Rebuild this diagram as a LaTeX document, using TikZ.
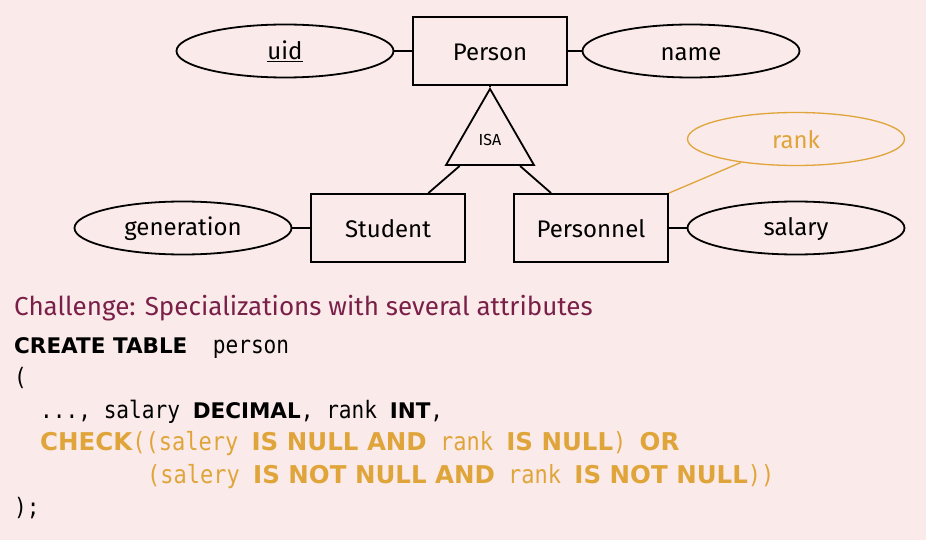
\documentclass[tikz,border=0pt]{standalone}
\usepackage{fontspec}
\setmainfont{Fira Sans}
\newfontfamily\codefont[FakeStretch=0.88]{DejaVu Sans Mono}
\newfontfamily\kwfont{DejaVu Sans}
\usetikzlibrary{shapes.geometric}
\definecolor{slidebg}{HTML}{FBEAEA}
\definecolor{titlered}{HTML}{7A2048}
\definecolor{hilite}{HTML}{E0A53A}
\tikzset{
	er/.style={line width=1.8pt},
	entity/.style={draw, er, minimum width=154pt, minimum height=68pt, text height=20pt, font=\fontsize{24}{28}\selectfont},
	attr/.style={draw, er, ellipse, minimum width=217pt, minimum height=53pt, inner sep=0pt, text height=20pt, font=\fontsize{24}{28}\selectfont},
	isa/.style={draw, er, regular polygon, regular polygon sides=3, minimum size=101.6pt, inner sep=0pt, font=\fontsize{16}{18}\selectfont},
	codeline/.style={anchor=base west, inner sep=0pt, font=\fontsize{26}{30}\selectfont}
}
% keywords and code, normal and highlighted
\newcommand{\kw}[1]{{\kwfont\bfseries\fontsize{21.5}{26}\selectfont #1}}
\newcommand{\cd}[1]{{\codefont\fontsize{24}{26}\selectfont #1}}
\newcommand{\hkw}[1]{{\kwfont\bfseries\fontsize{24.5}{28}\selectfont #1}}
\newcommand{\hcd}[1]{{\codefont\fontsize{25}{28}\selectfont #1}}
\begin{document}
\begin{tikzpicture}[x=1pt, y=-1pt]
	\fill[slidebg] (0,0) rectangle (926,540);
	% ER diagram
	\node[entity] (person) at (490,51) {Person};
	\node[attr] (uid) at (285,51) {\underline{uid}};
	\node[attr] (name) at (691,51) {name};
	\node[isa] (isa) at (490,139.7) {ISA};
	\node[entity] (student) at (388,228) {Student};
	\node[entity] (personnel) at (591,228) {Personnel};
	\node[attr] (generation) at (183,228) {generation};
	\node[attr] (salary) at (796,228) {salary};
	\node[attr, draw=hilite, text=hilite, line width=1.3pt] (rank) at (796,139) {rank};
	\draw[er] (uid) -- (person);
	\draw[er] (person) -- (name);
	\draw[er] (person) -- (isa);
	\draw[er] (isa) -- (student);
	\draw[er] (isa) -- (personnel);
	\draw[er] (generation) -- (student);
	\draw[er] (personnel) -- (salary);
	\draw[hilite, line width=1.3pt] (personnel.north east) -- (rank);
	% SQL
	\node[codeline, text=titlered] (challenge) at (14,315) {Challenge: Specializations with several attributes};
	\node[codeline] (create) at (14,353) {\kw{CREATE TABLE}\cd{\ \ person}};
	\node[codeline] (open) at (14,385.5) {\cd{(}};
	\node[codeline] (cols) at (40,418) {\cd{..., salary }\kw{DECIMAL}\cd{, rank }\kw{INT}\cd{,}};
	\node[codeline, text=hilite] (check) at (40,450.5) {\hkw{CHECK}\hcd{((salery }\hkw{IS NULL AND}\hcd{ rank }\hkw{IS NULL}\hcd{) }\hkw{OR}};
	\node[codeline, text=hilite] (check2) at (147,483) {\hcd{(salery }\hkw{IS NOT NULL AND}\hcd{ rank }\hkw{IS NOT NULL}\hcd{))}};
	\node[codeline] (close) at (14,515.5) {\cd{);}};
\end{tikzpicture}
\end{document}
